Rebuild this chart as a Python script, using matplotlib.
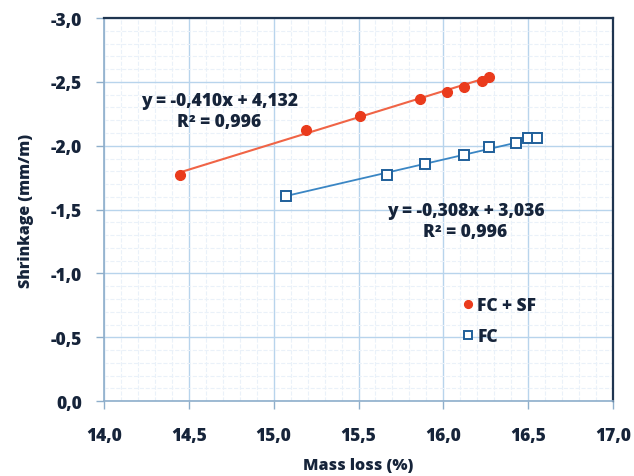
import numpy as np
import matplotlib
matplotlib.use("Agg")
import matplotlib.pyplot as plt
from matplotlib.ticker import MultipleLocator

plt.rcParams['font.family'] = ['Open Sans', 'DejaVu Sans']
plt.rcParams['font.weight'] = 'bold'

# data
fcsf_x = [14.45, 15.19, 15.51, 15.86, 16.02, 16.12, 16.23, 16.27]
fcsf_y = [-1.77, -2.12, -2.23, -2.37, -2.42, -2.46, -2.51, -2.54]
fc_x = [15.07, 15.67, 15.89, 16.12, 16.27, 16.43, 16.50, 16.55]
fc_y = [-1.61, -1.77, -1.86, -1.93, -1.99, -2.02, -2.06, -2.06]

# trendlines given in the chart
fcsf_fit = (-0.410, 4.132)
fc_fit = (-0.308, 3.036)
fcsf_eq = "y = -0,410x + 4,132\nR² = 0,996"
fc_eq = "y = -0,308x + 3,036\nR² = 0,996"

xticks = [14.0, 14.5, 15.0, 15.5, 16.0, 16.5, 17.0]
xlabels = ['14,0', '14,5', '15,0', '15,5', '16,0', '16,5', '17,0']
yticks = [0.0, -0.5, -1.0, -1.5, -2.0, -2.5, -3.0]
ylabels = ['0,0', '-0,5', '-1,0', '-1,5', '-2,0', '-2,5', '-3,0']

txt = '#16243a'
red = '#ea3b1c'
red_line = '#f06446'
blue = '#1f5f9a'
blue_line = '#3a86c4'

fig = plt.figure(figsize=(6.34, 4.77), dpi=100)
ax = fig.add_axes([0.164, 0.157, 0.803, 0.803])

# trendlines over data range
xx = np.array([min(fcsf_x), max(fcsf_x)])
ax.plot(xx, fcsf_fit[0] * xx + fcsf_fit[1], color=red_line, lw=1.5, zorder=3)
xx = np.array([min(fc_x), max(fc_x)])
ax.plot(xx, fc_fit[0] * xx + fc_fit[1], color=blue_line, lw=1.3, zorder=3)

ax.plot(fcsf_x, fcsf_y, 'o', color=red, ms=7, mec=red, label='FC + SF', zorder=4)
ax.plot(fc_x, fc_y, 's', color=blue, mfc='white', mew=1.4, ms=7.5, label='FC', zorder=4)

ax.set_xlim(14.0, 17.0)
ax.set_ylim(0.0, -3.0)
ax.set_xticks(xticks, xlabels, fontsize=12.5, fontweight='heavy', color=txt)
ax.set_yticks(yticks, ylabels, fontsize=12.5, fontweight='heavy', color=txt)
ax.xaxis.set_minor_locator(MultipleLocator(0.1))
ax.yaxis.set_minor_locator(MultipleLocator(0.1))

ax.grid(which='major', color='#b8d4ec', lw=1.0)
ax.grid(which='minor', color='#eaf1f9', lw=0.8, ls='--')
ax.set_axisbelow(True)

for s in ['top', 'right']:
    ax.spines[s].set_color('#1f3550')
    ax.spines[s].set_linewidth(1.6)
for s in ['left', 'bottom']:
    ax.spines[s].set_color('#8eaecb')
    ax.spines[s].set_linewidth(1.2)

ax.tick_params(which='major', direction='out', length=6, width=1, color='#8eaecb')
ax.tick_params(axis='x', which='major', pad=13)
ax.tick_params(axis='y', which='major', pad=10)
ax.tick_params(which='minor', length=0)

ax.set_xlabel('Mass loss (%)', fontsize=11.5, fontweight='heavy', color=txt, labelpad=9)
ax.set_ylabel('Shrinkage (mm/m)', fontsize=11.5, fontweight='heavy', color=txt, labelpad=12)

ax.text(14.68, -2.27, fcsf_eq, ha='center', va='center', fontsize=12.5,
        fontweight='heavy', color=txt, linespacing=1.3)
ax.text(16.13, -1.41, fc_eq, ha='center', va='center', fontsize=12.5,
        fontweight='heavy', color=txt, linespacing=1.3)

leg = ax.legend(loc='upper left', bbox_to_anchor=(0.675, 0.313), frameon=False,
                handlelength=0.5, handletextpad=0.3, labelspacing=0.8,
                markerscale=0.8, prop={'size': 12.5, 'weight': 'heavy'})
for t in leg.get_texts():
    t.set_color(txt)

fig.savefig('out.png', dpi=100, facecolor='white')
